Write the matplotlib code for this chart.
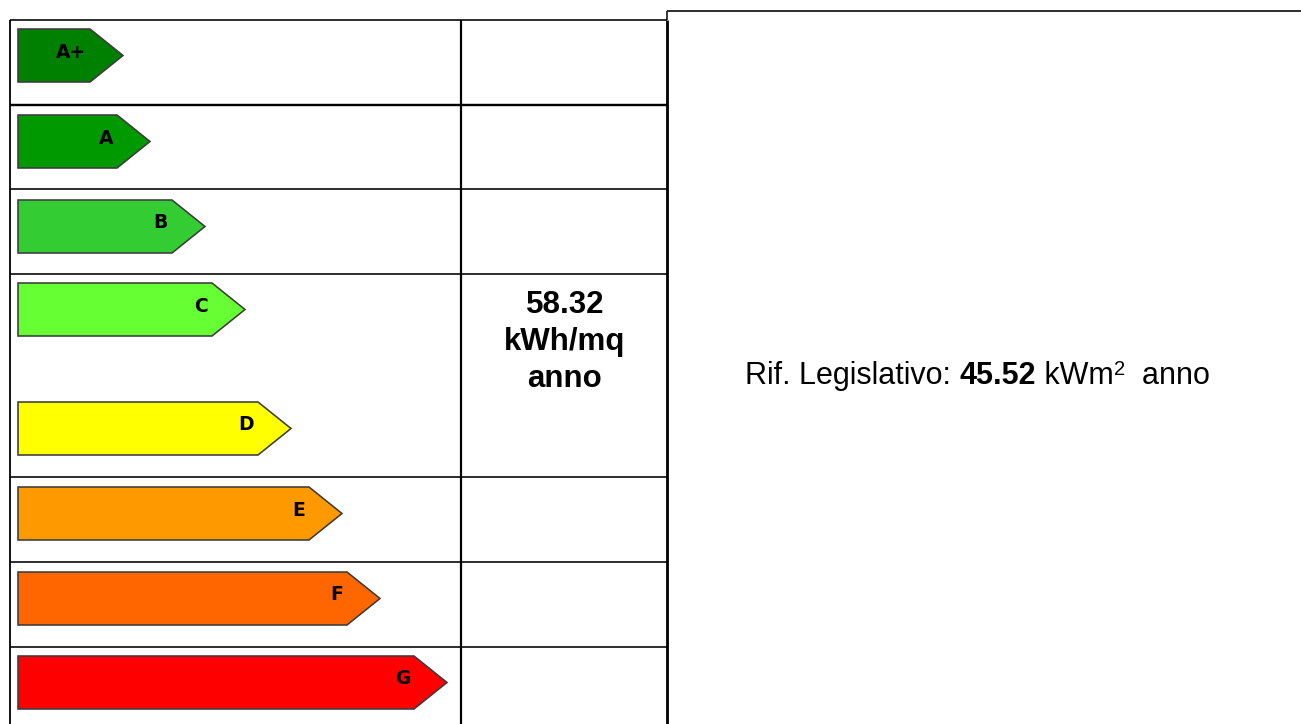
import matplotlib

matplotlib.use("Agg")
import matplotlib.pyplot as plt
from matplotlib.patches import Polygon

# energy classes, colours and arrow tip positions (px from left edge of figure)
CLASSES = ["A+", "A", "B", "C", "D", "E", "F", "G"]
COLORS = ["#008000", "#009900", "#33cc33", "#66ff33", "#ffff00", "#ff9900", "#ff6600", "#ff0000"]
TIP_X = [123, 150, 205, 245, 291, 342, 380, 447]

VALUE_LINES = ["58.32", "kWh/mq", "anno"]
REF_VALUE = "45.52"

W, H = 1301, 724
ARROW_LEFT = 18
ARROW_H = 53
HEAD = 33
ARROW_TOP = [29, 115, 200, 283, 402, 487, 572, 656]
ROW_LINES = [105, 189, 274, 477, 562, 647]


def px(v):
    return v * 0.72


def draw_arrow(ax, top, tip, color, label):
    body = tip - HEAD
    mid = top + ARROW_H / 2
    pts = [(ARROW_LEFT, top), (body, top), (tip, mid), (body, top + ARROW_H), (ARROW_LEFT, top + ARROW_H)]
    ax.add_patch(Polygon(pts, closed=True, facecolor=color, edgecolor="#3c3c3c",
                         linewidth=px(1.6), joinstyle="miter"))
    ax.text(body - 4, mid + 2, label, ha="right", va="baseline", fontsize=13.5,
            fontweight="bold", color="black", family="DejaVu Sans")


def main():
    fig = plt.figure(figsize=(W / 100, H / 100), dpi=100, facecolor="white")
    ax = fig.add_axes([0, 0, 1, 1])
    ax.set_xlim(0, W)
    ax.set_ylim(H, 0)
    ax.set_axis_off()

    k = dict(color="black", solid_capstyle="butt")
    # table frame
    ax.plot([10, 667], [20, 20], lw=px(1.6), **k)
    ax.plot([10, 10], [20, H], lw=px(1.8), **k)
    ax.plot([461, 461], [20, H], lw=px(2.2), **k)
    ax.plot([667, 667], [11, 20], lw=px(1.5), **k)
    ax.plot([667, 667], [20, H], lw=px(2.8), **k)
    ax.plot([667, W], [11, 11], lw=px(1.6), **k)
    for i, y in enumerate(ROW_LINES):
        ax.plot([10, 667], [y, y], lw=px(2.4 if i == 0 else 1.6), **k)

    for top, tip, c, lab in zip(ARROW_TOP, TIP_X, COLORS, CLASSES):
        draw_arrow(ax, top, tip, c, lab)

    # value in the middle column
    for y, line in zip([313, 350, 387], VALUE_LINES):
        ax.text(565, y, line, ha="center", va="baseline", fontsize=22.5,
                fontweight="bold", family="Liberation Sans")

    # reference text, built piece by piece
    renderer = fig.canvas.get_renderer()
    x = 745
    base = 384
    fs = 22
    pieces = [
        ("Rif. Legislativo: ", "normal", fs, 0),
        (REF_VALUE, "bold", fs, 0),
        (" kWm", "normal", fs, 0),
        ("2", "normal", fs * 0.66, -9),
        ("  anno", "normal", fs, 0),
    ]
    for s, wt, size, dy in pieces:
        t = ax.text(x, base + dy, s, ha="left", va="baseline", fontsize=size,
                    fontweight=wt, family="Liberation Sans")
        bb = t.get_window_extent(renderer=renderer)
        x += bb.width

    fig.savefig("out.png", dpi=100)
    plt.close(fig)


if __name__ == "__main__":
    main()
